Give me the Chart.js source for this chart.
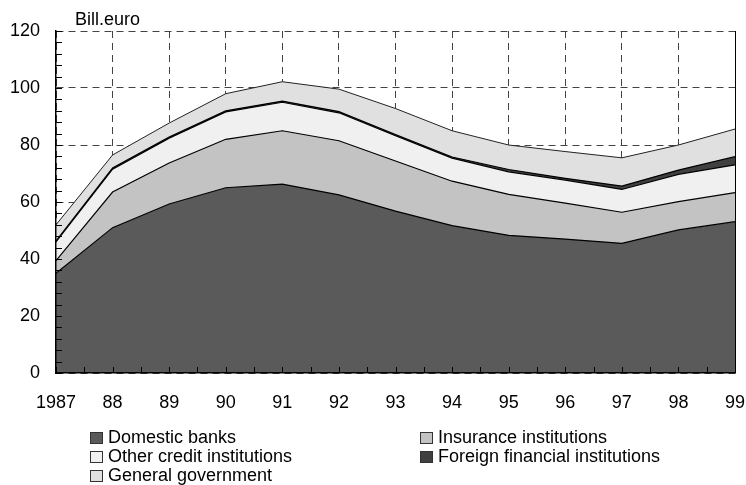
<!DOCTYPE html>
<html>
<head>
<meta charset="utf-8">
<script src="https://cdn.jsdelivr.net/npm/chart.js@4.4.0/dist/chart.umd.min.js"></script>
<style>
  body { margin: 0; background: #fff; font-family: "Liberation Sans", Arial, sans-serif; }
  #wrap { position: relative; width: 746px; height: 485px; }
  #unit { position: absolute; left: 75px; top: 10px; font-size: 18px; line-height: 18px; color: #000; }
  .leg { position: absolute; font-size: 18px; line-height: 19px; display: flex; align-items: center; color: #000; white-space: nowrap; }
  .leg .box { width: 13px; height: 12px; border: 1px solid #333; box-sizing: border-box; margin-right: 5px; }
</style>
</head>
<body>
<div id="wrap">
  <canvas id="chart" width="746" height="485"></canvas>
  <div id="unit">Bill.euro</div>
  <div id="legend"></div>
</div>
<script>
const years = [1987, 1988, 1989, 1990, 1991, 1992, 1993, 1994, 1995, 1996, 1997, 1998, 1999];
const yearLabels = ['1987', '88', '89', '90', '91', '92', '93', '94', '95', '96', '97', '98', '99'];

const domesticBanks   = [35.0, 51.0, 59.3, 65.0, 66.3, 62.5, 56.8, 51.7, 48.3, 47.0, 45.5, 50.2, 53.1];
const insurance       = [4.4, 12.5, 14.4, 17.0, 18.7, 19.0, 17.6, 15.6, 14.4, 12.6, 10.9, 9.9, 10.2];
const otherCredit     = [6.6, 8.0, 8.7, 9.6, 10.0, 9.8, 8.9, 8.1, 7.9, 8.1, 8.0, 9.6, 9.7];
const foreignFin      = [0.3, 0.4, 0.4, 0.4, 0.4, 0.4, 0.4, 0.4, 0.8, 0.6, 1.2, 1.5, 2.9];
const generalGov      = [5.7, 4.6, 4.9, 6.0, 6.8, 7.9, 9.1, 9.2, 8.6, 9.4, 9.9, 8.8, 9.7];

const yTicks = [0, 20, 40, 60, 80, 100, 120];

const series = [
  { name: 'Domestic banks', data: domesticBanks, color: '#5a5a5a' },
  { name: 'Insurance institutions', data: insurance, color: '#c3c3c3' },
  { name: 'Other credit institutions', data: otherCredit, color: '#f0f0f0' },
  { name: 'Foreign financial institutions', data: foreignFin, color: '#404040' },
  { name: 'General government', data: generalGov, color: '#e0e0e0' }
];

// inward tick marks + right frame
const frameTicks = {
  id: 'frameTicks',
  afterDatasetsDraw(chart) {
    const { ctx, chartArea: a, scales: { x, y } } = chart;
    ctx.save();
    ctx.strokeStyle = '#000';
    ctx.lineWidth = 1;
    ctx.beginPath();
    for (let v = yTicks[0]; v <= yTicks[yTicks.length - 1]; v += 4) {
      const p = Math.round(y.getPixelForValue(v)) + 0.5;
      ctx.moveTo(a.left, p);
      ctx.lineTo(a.left + 6, p);
    }
    for (let v = years[0]; v <= years[years.length - 1]; v += 0.5) {
      const p = Math.round(x.getPixelForValue(v)) + 0.5;
      ctx.moveTo(p, a.bottom);
      ctx.lineTo(p, a.bottom - 6);
    }
    ctx.moveTo(Math.round(a.right) + 0.5, a.top);
    ctx.lineTo(Math.round(a.right) + 0.5, a.bottom);
    ctx.stroke();
    ctx.restore();
  }
};

const ctx = document.getElementById('chart').getContext('2d');
new Chart(ctx, {
  type: 'line',
  data: {
    datasets: series.map((s, i) => ({
      label: s.name,
      data: s.data.map((v, j) => ({ x: years[j], y: v })),
      backgroundColor: s.color,
      borderColor: i === series.length - 1 ? '#222' : '#000',
      borderWidth: i === series.length - 1 ? 1 : 1.2,
      fill: i === 0 ? 'origin' : '-1',
      pointRadius: 0,
      tension: 0
    }))
  },
  options: {
    responsive: false,
    animation: false,
    layout: { padding: { left: 0, right: 11, top: 31, bottom: 72 } },
    plugins: { legend: { display: false }, tooltip: { enabled: false } },
    scales: {
      x: {
        type: 'linear',
        min: years[0],
        max: years[years.length - 1],
        afterFit: (s) => { s.height = 40; s.paddingLeft = 0; s.paddingRight = 0; },
        afterBuildTicks: (s) => { s.ticks = years.map(v => ({ value: v })); },
        ticks: {
          padding: 19,
          color: '#000',
          font: { family: '"Liberation Sans", Arial, sans-serif', size: 18 },
          maxRotation: 0,
          autoSkip: false,
          callback: (v) => yearLabels[years.indexOf(v)]
        },
        grid: { color: '#444', lineWidth: 1, drawTicks: false },
        border: { display: true, color: '#000', width: 1.5, dash: [7, 5], z: 1 }
      },
      y: {
        stacked: true,
        min: 0,
        max: 120,
        afterFit: (s) => { s.width = 56; s.paddingTop = 0; s.paddingBottom = 0; },
        afterBuildTicks: (s) => { s.ticks = yTicks.map(v => ({ value: v })); },
        ticks: {
          padding: 16,
          color: '#000',
          font: { family: '"Liberation Sans", Arial, sans-serif', size: 18 }
        },
        grid: { color: '#444', lineWidth: 1, drawTicks: false },
        border: { display: true, color: '#000', width: 1.5, dash: [7, 5], z: 1 }
      }
    }
  },
  plugins: [frameTicks]
});

// legend in two columns, like the original
const legendPos = [
  { left: 90, top: 428 }, { left: 420, top: 428 },
  { left: 90, top: 447 }, { left: 420, top: 447 },
  { left: 90, top: 466 }
];
const legendEl = document.getElementById('legend');
series.forEach((s, i) => {
  const d = document.createElement('div');
  d.className = 'leg';
  d.style.left = legendPos[i].left + 'px';
  d.style.top = legendPos[i].top + 'px';
  d.innerHTML = '<span class="box" style="background:' + s.color + '"></span>' + s.name;
  legendEl.appendChild(d);
});
</script>
</body>
</html>
